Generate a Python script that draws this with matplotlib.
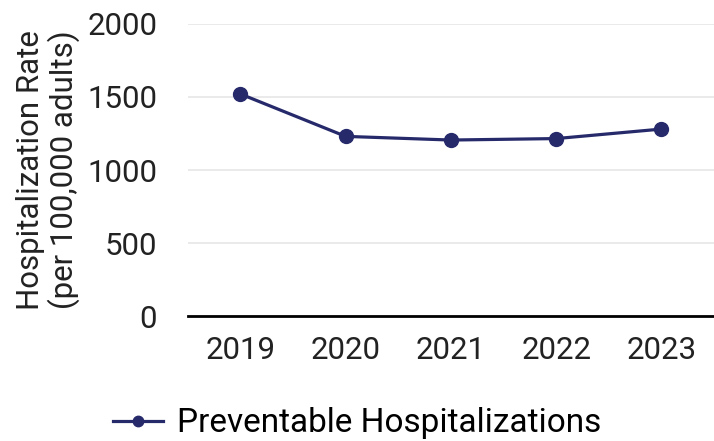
import matplotlib.pyplot as plt

years = ["2019", "2020", "2021", "2022", "2023"]
rates = [1520, 1230, 1205, 1215, 1280]
y_ticks = [0, 500, 1000, 1500, 2000]

plt.rcParams['font.family'] = ['Roboto', 'DejaVu Sans']

fig = plt.figure(figsize=(7.14, 4.41), dpi=100)
ax = fig.add_axes([0.263, 0.283, 0.737, 0.663])

x = range(len(years))
ax.plot(x, rates, color="#262a6b", linewidth=2.3, marker='o', markersize=10,
        label="Preventable Hospitalizations")

ax.set_xlim(-0.5, len(years) - 0.5)
ax.set_ylim(0, 2000)
ax.set_yticks(y_ticks)
ax.set_xticks(list(x))
ax.set_xticklabels(years)

ax.grid(axis='y', color="#e6e6e6", linewidth=1.2)
ax.set_axisbelow(True)
for s in ["top", "right", "left"]:
    ax.spines[s].set_visible(False)
ax.spines["bottom"].set_color("black")
ax.spines["bottom"].set_linewidth(2)

ax.tick_params(axis='both', length=0, labelsize=22.5, colors="#222222")
ax.tick_params(axis='y', pad=22)
ax.tick_params(axis='x', pad=14)

ax.set_ylabel("Hospitalization Rate\n(per 100,000 adults)", fontsize=22.5,
              color="#222222", linespacing=1.1, labelpad=5)

fig.legend(loc="center", bbox_to_anchor=(0.5, 0.04), frameon=False,
           fontsize=24, handlelength=1.5, handletextpad=0.4, markerscale=0.75)

fig.savefig("out.png", dpi=100)
